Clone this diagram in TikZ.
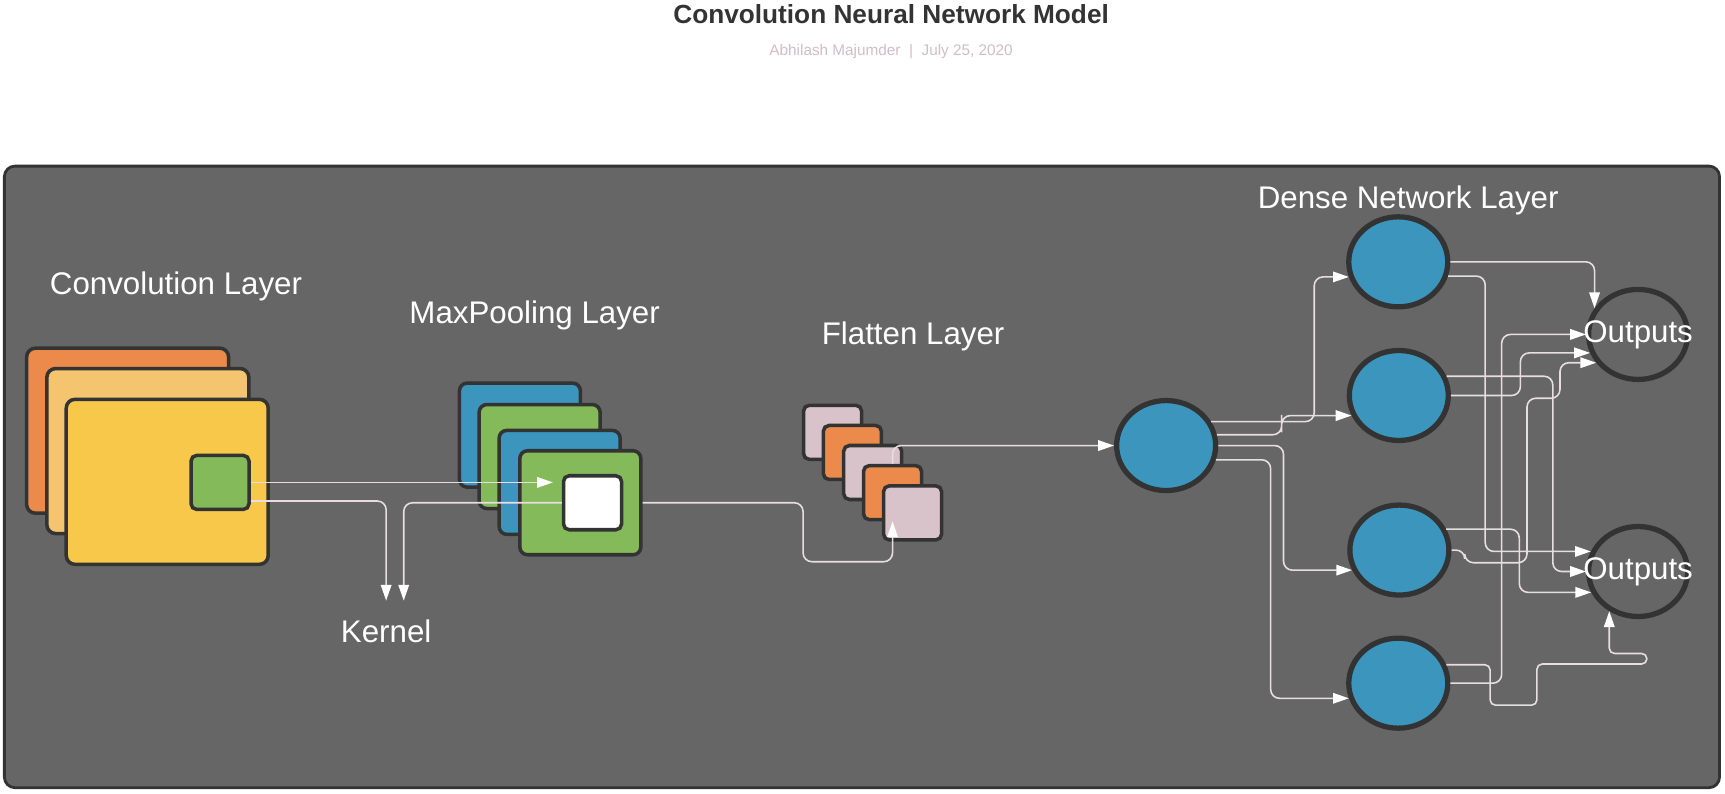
\documentclass[tikz,border=0pt]{standalone}
\usepackage{fontspec}
\setmainfont{Liberation Sans}
\usetikzlibrary{arrows.meta, shapes.geometric}

\definecolor{panelgray}{HTML}{666666}
\definecolor{edgegray}{HTML}{333333}
\definecolor{titlegray}{HTML}{333333}
\definecolor{subgray}{HTML}{D2BDC7}
\definecolor{convorange}{HTML}{EC8A4C}
\definecolor{convpeach}{HTML}{F5C46E}
\definecolor{convyellow}{HTML}{F8C84B}
\definecolor{mapblue}{HTML}{3C95BD}
\definecolor{mapgreen}{HTML}{84BA5A}
\definecolor{flatpink}{HTML}{D8C3CA}
\definecolor{wirecol}{HTML}{E8DDE2}

\tikzset{
  lbl/.style={text=white, font=\fontsize{8.9}{10.7}\selectfont},
  layerbox/.style={draw=edgegray, line width=1pt, rounded corners=2.5pt, minimum width=2.02cm, minimum height=1.65cm},
  poolbox/.style={draw=edgegray, line width=1pt, rounded corners=2.2pt, minimum width=1.21cm, minimum height=1.04cm},
  smallbox/.style={draw=edgegray, line width=1pt, rounded corners=1.6pt, minimum width=0.58cm, minimum height=0.54cm},
  neuron/.style={ellipse, draw=edgegray, line width=1.5pt, fill=mapblue, inner sep=0pt, minimum width=0.99cm, minimum height=0.9cm},
  outnode/.style={neuron, fill=none},
  wire/.style={draw=wirecol, line width=0.45pt, rounded corners=2.5pt, -{Triangle[length=4.5pt, width=3pt, color=white]}},
}

\begin{document}
\begin{tikzpicture}[x=0.011cm, y=-0.011cm]
    \useasboundingbox[fill=white] (0,0) rectangle (1568,721);

    \node[font=\bfseries\fontsize{7.46}{9}\selectfont, text=titlegray] (title) at (810,13) {Convolution Neural Network Model};
    \node[font=\fontsize{4.36}{5.2}\selectfont, text=subgray] (subtitle) at (810,46.5) {Abhilash Majumder\ \ |\ \ July 25, 2020};

    \draw[draw=edgegray, line width=0.8pt, fill=panelgray, rounded corners=3pt] (4,151) rectangle (1563,716);

    % convolution layer
    \node[lbl] (convlbl) at (160,260.5) {Convolution Layer};
    \node[layerbox, fill=convorange] (convA) at (116,391.5) {};
    \node[layerbox, fill=convpeach] (convB) at (134.4,410) {};
    \node[layerbox, fill=convyellow] (convC) at (152,438) {};
    \node[smallbox, fill=mapgreen] (kern) at (200,438.5) {};

    % maxpooling layer
    \node[lbl] (poollbl) at (486,287) {MaxPooling Layer};
    \node[poolbox, fill=mapblue] (poolA) at (472.6,395.5) {};
    \node[poolbox, fill=mapgreen] (poolB) at (490.5,415) {};
    \node[poolbox, fill=mapblue] (poolC) at (508.7,438.5) {};
    \node[poolbox, fill=mapgreen] (poolD) at (527.5,457) {};
    \node[smallbox, fill=white] (wsq) at (538.6,457) {};

    % flatten layer
    \node[lbl] (flatlbl) at (830,306) {Flatten Layer};
    \node[smallbox, fill=flatpink] (fl1) at (756.8,393) {};
    \node[smallbox, fill=convorange] (fl2) at (774.8,411.3) {};
    \node[smallbox, fill=flatpink] (fl3) at (793.3,429.5) {};
    \node[smallbox, fill=convorange] (fl4) at (811.3,447.8) {};
    \node[smallbox, fill=flatpink] (fl5) at (829.5,466.2) {};

    \node[lbl, inner ysep=5.3pt] (kname) at (351,574) {Kernel};

    % dense network layer
    \node[lbl] (denselbl) at (1280,182) {Dense Network Layer};
    \node[neuron] (d0) at (1060,405) {};
    \node[neuron] (d1) at (1271,238) {};
    \node[neuron] (d2) at (1271.5,359.5) {};
    \node[neuron] (d3) at (1272,500) {};
    \node[neuron] (d4) at (1271,621) {};
    \node[outnode, label={[lbl]center:Outputs}] (out1) at (1489,304) {};
    \node[outnode, label={[lbl]center:Outputs}] (out2) at (1489,519.5) {};

    % connectors
    \draw[wire, shorten >=2.5pt] (kern.east) -- (wsq.west |- kern.east);
    \draw[wire] ([yshift=-5.3pt]kern.east) -| (kname.north);
    \draw[wire] (wsq.west) -| ([xshift=5pt]kname.north);
    \draw[wire] (poolD.east) -| (730,480) |- (790,510.6) -| (fl4.south);
    \draw[wire] (fl4.north) |- (d0.west);

    \draw[wire] (d0.28) -| (1194.6,300) |- (d1.197);
    \draw[wire] (d0.12) -| (1165,385) |- (d2.203);
    \draw[wire] (d0.east) -| (1166.7,450) |- (d3.203);
    \draw[wire] (d0.344) -| (1155,500) |- (d4.197);

    \draw[wire] (d1.east) -| (out1.149);
    \draw[wire] (d1.344) -| (1350,400) |- (out2.157);
    \draw[wire] (d2.east) -| (1382,340) |- (out1.201);
    \draw[wire] (d2.22) -| (1411.5,430) |- (out2.west);
    \draw[wire] (d3.east) -- ++(12,0) |- (1388,511.5) |- (1418,362) |- (out1.214);
    \draw[wire] (d3.24) -| (1381,510) |- (out2.204);
    \draw[wire] (d4.east) -| (1365,450) |- (out1.west);
    \draw[wire, rounded corners=1.5pt] (d4.21) -| (1354.5,620) |- (1397,641) |- (1497,603.6) |- (1480,594) -| (out2.234);
\end{tikzpicture}
\end{document}
